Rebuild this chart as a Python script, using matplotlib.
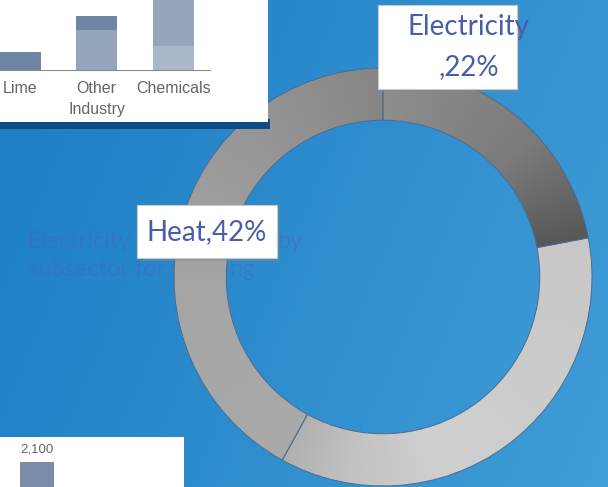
import numpy as np
import matplotlib
matplotlib.use("Agg")
import matplotlib.pyplot as plt
from matplotlib.patches import Rectangle
from matplotlib.colors import to_rgb

# donut data
ring_labels = ["Electricity", "Other", "Heat"]
ring_shares = [22, 36, 42]

# top-left inset (stacked bars, clipped)
inset_cats = ["Lime", "Other\nIndustry", "Chemicals"]
inset_low = [0, 0, 24]
inset_mid = [0, 40, 46]
inset_top = [18, 14, 12]

# bottom-left inset
low_cats = ["A"]
low_vals = [2100]

W, H = 608, 487
fig = plt.figure(figsize=(W / 100, H / 100), dpi=100)


def px(x0, y0, x1, y1):
    # pixel box (top-left origin) -> figure fraction rect
    return [x0 / W, 1 - y1 / H, (x1 - x0) / W, (y1 - y0) / H]


# background gradient
bg = fig.add_axes([0, 0, 1, 1])
yy, xx = np.mgrid[0:1:200j, 0:1:250j]
t = (xx * 0.75 + yy * 0.25)
c0 = np.array(to_rgb("#1b7cc4"))
c1 = np.array(to_rgb("#409dd8"))
img = c0 + t[..., None] * (c1 - c0)
bg.imshow(img, extent=[0, 1, 0, 1], aspect="auto", origin="upper")
bg.set_xlim(0, 1)
bg.set_ylim(0, 1)
bg.axis("off")

# faded title text sitting behind the ring
fade = dict(color="#4f62b8", alpha=0.4, fontsize=17, family="Lato", va="center")
fig.text(28 / W, 1 - 242 / H, "Electricity", **fade)
fig.text(277 / W, 1 - 242 / H, "by", **fade)
fig.text(28 / W, 1 - 270 / H, "subsector for", **fade)
fig.text(229 / W, 1 - 270 / H, "ng", **fade)

# donut
cx, cy, r = 383, 277, 209
ax = fig.add_axes(px(cx - r, cy - r, cx + r, cy + r))
wedges, _ = ax.pie(ring_shares, radius=1, startangle=90, counterclock=False,
                   wedgeprops=dict(width=0.25, edgecolor="#4d6c8e", linewidth=0.7))

stops = [
    ([0, 0.6, 1.0], ["#8e8e8e", "#7b7b7b", "#575757"]),
    ([0, 0.4, 0.65, 0.85, 1.0], ["#c8c8c8", "#cccccc", "#d0d0d0", "#c2c2c2", "#b0b0b0"]),
    ([0, 0.4, 0.75, 1.0], ["#aaaaaa", "#a5a5a5", "#959595", "#858585"]),
]
gy, gx = np.mgrid[1:-1:400j, -1:1:400j]
ang = (90 - np.degrees(np.arctan2(gy, gx))) % 360
start = 0
for w, share, (pos, cols) in zip(wedges, ring_shares, stops):
    span = share * 3.6
    f = np.clip((ang - start) / span, 0, 1)
    rgb = np.array([to_rgb(c) for c in cols])
    im_arr = np.stack([np.interp(f, pos, rgb[:, k]) for k in range(3)], axis=-1)
    im = ax.imshow(im_arr, extent=[-1, 1, -1, 1], zorder=0.5, aspect="auto")
    im.set_clip_path(w)
    w.set_facecolor("none")
    w.set_zorder(2)
    start += span
ax.set_xlim(-1, 1)
ax.set_ylim(-1, 1)
ax.axis("off")

# label boxes
lab_col = "#4a5ea8"
for (x0, y0, x1, y1) in [(378, 5, 517, 89), (137, 205, 277, 258)]:
    fig.patches.append(Rectangle((x0 / W + 2 / W, 1 - (y1 + 3) / H), (x1 - x0) / W, (y1 - y0) / H,
                                 transform=fig.transFigure, facecolor="#7f8a96", alpha=0.45,
                                 edgecolor="none", zorder=3))
    fig.patches.append(Rectangle((x0 / W, 1 - y1 / H), (x1 - x0) / W, (y1 - y0) / H,
                                 transform=fig.transFigure, facecolor="white",
                                 edgecolor="#c9c9c9", linewidth=0.8, zorder=4))
fig.text(468 / W, 1 - 27 / H, "Electricity", color=lab_col, fontsize=20, family="Lato",
         ha="center", va="center", zorder=5)
fig.text(469 / W, 1 - 67 / H, f",{ring_shares[0]}%", color=lab_col, fontsize=20, family="Lato",
         ha="center", va="center", zorder=5)
fig.text(207 / W, 1 - 232 / H, f"{ring_labels[2]},{ring_shares[2]}%", color=lab_col, fontsize=20,
         family="Lato", ha="center", va="center", zorder=5)

# top-left inset box
fig.patches.append(Rectangle((0, 1 - 129 / H), 270 / W, 10 / H, transform=fig.transFigure,
                             facecolor="#0e4d84", edgecolor="none", zorder=6))
fig.patches.append(Rectangle((0, 1 - 122 / H), 268 / W, 122 / H, transform=fig.transFigure,
                             facecolor="white", edgecolor="none", zorder=6))
ai = fig.add_axes(px(0, 0, 210, 70), zorder=7)
ai.patch.set_alpha(0)
xs = np.arange(len(inset_cats))
low = np.array(inset_low)
mid = np.array(inset_mid)
ai.bar(xs, inset_low, width=0.54, color="#a9b7ca")
ai.bar(xs, inset_mid, width=0.54, bottom=low, color="#94a5bc")
ai.bar(xs, inset_top, width=0.54, bottom=low + mid, color="#6f85a5")
ai.set_xlim(-0.26, 2.48)
ai.set_ylim(0, 70)
ai.set_yticks([])
for s in ["top", "left", "right"]:
    ai.spines[s].set_visible(False)
ai.spines["bottom"].set_color("#8a8a8a")
ai.set_xticks(xs, inset_cats)
ai.tick_params(axis="x", length=0, pad=8, labelsize=11.5, labelcolor="#646464")
for lb in ai.get_xticklabels():
    lb.set_family("Liberation Sans")
    lb.set_linespacing(1.5)

# bottom-left inset
fig.patches.append(Rectangle((0, 0), 184 / W, 50 / H, transform=fig.transFigure,
                             facecolor="white", edgecolor="none", zorder=6))
ab = fig.add_axes(px(0, 437, 184, 487), zorder=7)
ab.patch.set_alpha(0)
ab.bar(range(len(low_vals)), low_vals, width=0.8, color="#7b8ca9")
for i, v in enumerate(low_vals):
    ab.text(i, v + 100, f"{v:,}", ha="center", va="bottom", fontsize=9.5,
            color="#666666", family="Liberation Sans")
ab.set_xlim(-0.87, 3.46)
ab.set_ylim(1700, 2500)
ab.axis("off")

fig.savefig("out.png", dpi=100)
